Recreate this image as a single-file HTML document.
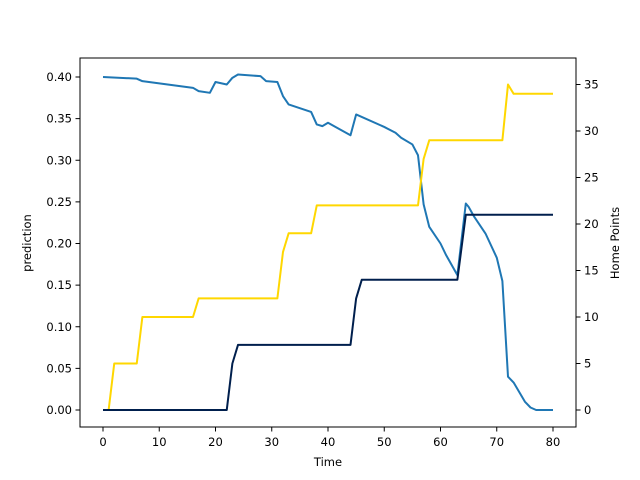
<!DOCTYPE html>
<html><head><meta charset="utf-8"><style>
body{margin:0;background:#fff}
svg{display:block;font-family:"DejaVu Sans","Liberation Sans",sans-serif}
</style></head><body>
<svg id="chart" width="640" height="480" viewBox="0 0 640 480" xmlns="http://www.w3.org/2000/svg"></svg>
<script>
const xTicks=[0,10,20,30,40,50,60,70,80];
const leftTicks=[0,0.05,0.10,0.15,0.20,0.25,0.30,0.35,0.40];
const rightTicks=[0,5,10,15,20,25,30,35];
const predT=[0,6,7,16,17,19,20,22,23,24,28,29,31,32,33,37,38,39,40,44,45,50,52,53,55,56,57,58,60,61,63,64.5,65,66,68,70,71,72,73,75,76,77,80];
const predV=[0.400,0.398,0.395,0.387,0.383,0.381,0.394,0.391,0.399,0.403,0.401,0.395,0.394,0.377,0.367,0.358,0.343,0.341,0.345,0.330,0.355,0.340,0.333,0.327,0.319,0.306,0.247,0.220,0.200,0.186,0.162,0.248,0.244,0.232,0.212,0.183,0.155,0.040,0.033,0.010,0.003,0.000,0.000];
const goldT=[0,1,2,6,7,16,17,31,32,33,37,38,56,57,58,71,72,73,80];
const goldV=[0,0,5,5,10,10,12,12,17,19,19,22,22,27,29,29,35,34,34];
const navyT=[0,22,23,24,44,45,46,63,64.5,80];
const navyV=[0,0,5,7,7,12,14,14,21,21];

const L=80,R=576,T=58,B=427;
const X=t=>103+t*5.625;
const YL=v=>410-v*832.5;
const YR=p=>410-p*9.3;
const svg=document.getElementById('chart');
const NS='http://www.w3.org/2000/svg';
function mk(tag,attrs,parent){const e=document.createElementNS(NS,tag);for(const k in attrs)e.setAttribute(k,attrs[k]);(parent||svg).appendChild(e);return e;}

function line(ts,vs,fy,color,name){
  const p=mk('polyline',{points:ts.map((t,i)=>X(t)+','+fy(vs[i])).join(' '),fill:'none',stroke:color,'stroke-width':2,'stroke-linejoin':'round'});
  
  
}
line(predT,predV,YL,'#1f77b4','prediction-line');
line(goldT,goldV,YR,'#ffd700','home-points-gold-line');
line(navyT,navyV,YR,'#001f4d','home-points-navy-line');

const frame=mk('rect',{x:L,y:T,width:R-L,height:B-T,fill:'none',stroke:'#000','stroke-width':1});



xTicks.forEach(t=>{
  mk('line',{x1:X(t),x2:X(t),y1:B,y2:B+4.5,stroke:'#000','stroke-width':1});
  const tx=mk('text',{x:X(t),y:B+19,'font-size':11.5,'text-anchor':'middle'});tx.textContent=t;
  
  
});
leftTicks.forEach(v=>{
  mk('line',{x1:L-4.5,x2:L,y1:YL(v),y2:YL(v),stroke:'#000','stroke-width':1});
  const tx=mk('text',{x:L-8,y:YL(v)+4,'font-size':11.5,'text-anchor':'end'});tx.textContent=v.toFixed(2);
  
  
});
rightTicks.forEach(p=>{
  mk('line',{x1:R,x2:R+4.5,y1:YR(p),y2:YR(p),stroke:'#000','stroke-width':1});
  const tx=mk('text',{x:R+8,y:YR(p)+4,'font-size':11.5,'text-anchor':'start'});tx.textContent=p;
  
  
});
const xt=mk('text',{x:328,y:466,'font-size':11.5,'text-anchor':'middle'});xt.textContent='Time';


const yl=mk('text',{x:31,y:243,'font-size':11.5,'text-anchor':'middle',transform:'rotate(-90 31 243)'});yl.textContent='prediction';


const yr=mk('text',{x:619,y:243,'font-size':11.5,'text-anchor':'middle',transform:'rotate(-90 619 243)'});yr.textContent='Home Points';


</script>
</body></html>
